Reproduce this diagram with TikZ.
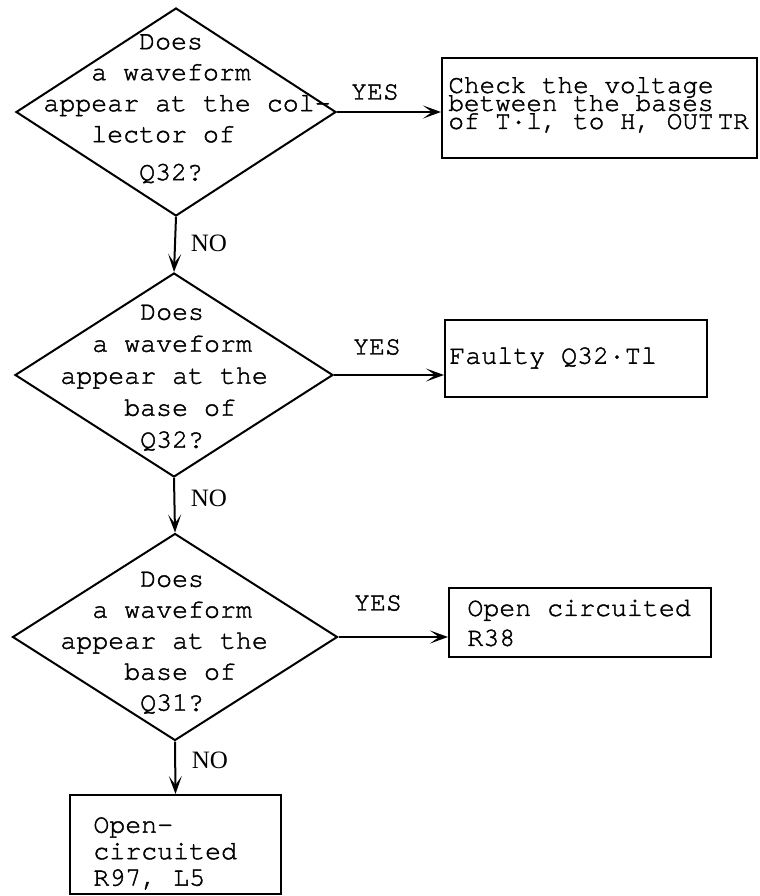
\documentclass[tikz,border=0pt]{standalone}
\usepackage{fontspec}
\setmainfont{TeX Gyre Cursor}[RawFeature={embolden=1.5}]
\newfontfamily\nofont{Liberation Serif}
\usetikzlibrary{shapes.geometric,arrows.meta}
\newcommand{\dfont}{\fontsize{13.3pt}{15.5pt}\selectfont}
\newcommand{\tightfont}{\fontsize{13pt}{9pt}\selectfont\lineskiplimit -20pt\relax}
\begin{document}
\begin{tikzpicture}[x=0.5pt,y=-0.5pt,
  dia/.style={draw, shape=diamond, inner sep=0pt, line width=1pt},
  boxn/.style={draw, rectangle, inner sep=0pt, line width=1pt},
  txt/.style={anchor=west, inner sep=0pt, align=left},
  lab/.style={inner sep=0pt, font=\fontsize{13.3pt}{14pt}\selectfont},
  nolab/.style={inner sep=0pt, font=\nofont\fontsize{12.5pt}{13pt}\selectfont},
  arr/.style={-{Stealth[length=9pt,width=6.5pt,inset=4.5pt]}, line width=1pt}]
\useasboundingbox (0,0) rectangle (760,896);

% decisions
\node[dia, minimum width=160pt, minimum height=104pt] (d1) at (176,112) {};
\node[dia, minimum width=159pt, minimum height=102pt] (d2) at (174,375) {};
\node[dia, minimum width=162.5pt, minimum height=103.5pt] (d3) at (175,637) {};

\node[txt, font=\dfont] (t1) at (43,108)
  {\phantom{000000}Does\\\phantom{000}a waveform\\appear at the col-\\\phantom{000}lector of\\[3.5pt]\phantom{000000}Q32?};
\node[txt, font=\fontsize{13.3pt}{16pt}\selectfont] (t2) at (60,377)
  {\phantom{00000}Does\\\phantom{00}a waveform\\appear at the\\\phantom{0000}base of\\\phantom{00000}Q32?};
\node[txt, font=\fontsize{13.3pt}{15.5pt}\selectfont] (t3) at (60,642)
  {\phantom{00000}Does\\\phantom{00}a waveform\\appear at the\\\phantom{0000}base of\\\phantom{00000}Q31?};

% result boxes
\node[boxn, minimum width=157.5pt, minimum height=50pt] (b1) at (599.5,108) {};
\node[boxn, minimum width=131pt, minimum height=38.5pt] (b2) at (576,358.5) {};
\node[boxn, minimum width=131pt, minimum height=34.5pt] (b3) at (580,622.5) {};
\node[boxn, minimum width=105.5pt, minimum height=49.5pt] (b4) at (175.5,844.5) {};

\node[txt, font=\tightfont] (bt1) at (448,105)
  {Check the voltage\\between the bases\\of T·l, to H, OUT\hspace{2pt}TR};
\node[txt, font=\fontsize{13.3pt}{15pt}\selectfont] (bt2) at (449,358) {Faulty Q32·Tl};
\node[txt, font=\fontsize{13.3pt}{15pt}\selectfont] (bt3) at (467,623) {Open circuited\\R38};
\node[txt, font=\fontsize{13.3pt}{13.25pt}\selectfont] (bt4) at (93,853.5) {Open-\\circuited\\R97, L5};

% labels
\node[lab] (y1) at (375,92) {YES};
\node[lab] (y2) at (377,347) {YES};
\node[lab] (y3) at (378,603) {YES};
\node[nolab] (n1) at (209,243) {NO};
\node[nolab] (n2) at (209,498) {NO};
\node[nolab] (n3) at (210,760) {NO};

% connectors
\draw[arr] (d1.east) -- (d1.east -| b1.west);
\draw[arr] (d2.east) -- (d2.east -| b2.west);
\draw[arr] (d3.east) -- (d3.east -| b3.west);
\draw[arr] (d1.south) -- (d2.north);
\draw[arr] (d2.south) -- (d3.north);
\draw[arr] (d3.south) -- (b4.north);
\end{tikzpicture}
\end{document}
